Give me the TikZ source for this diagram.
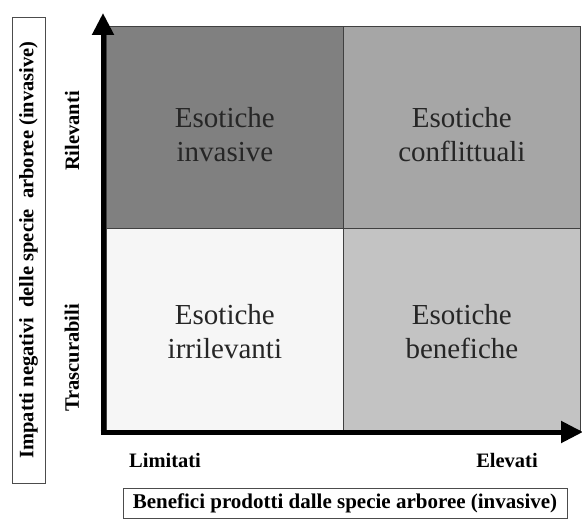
\documentclass[tikz,border=0pt]{standalone}
\usepackage{fontspec}
\setmainfont{Liberation Serif}
\usetikzlibrary{arrows.meta}
\definecolor{qTL}{HTML}{808080}
\definecolor{qTR}{HTML}{A6A6A6}
\definecolor{qBL}{HTML}{F6F6F6}
\definecolor{qBR}{HTML}{C3C3C3}
\definecolor{qEdge}{HTML}{404040}
\begin{document}
\begin{tikzpicture}[x=1pt,y=-1pt,
  quad/.style={draw=qEdge,line width=0.8pt,minimum width=237pt,minimum height=202pt,
    inner sep=0pt,anchor=north west},
  qtext/.style={align=center,inner sep=0pt,font=\fontsize{29}{34}\selectfont,text=black!85},
  axlab/.style={font=\bfseries\fontsize{20.5}{22}\selectfont,inner sep=0pt},
  titlebox/.style={draw=black!70,line width=0.8pt,inner sep=0pt,font=\bfseries\fontsize{21}{23}\selectfont},
  axis/.style={line width=5pt,-{Triangle[length=22pt,width=21pt]}}]
\useasboundingbox (0,0) rectangle (582,519);
\fill[white] (0,0) rectangle (582,519);
% quadrants
\node[quad,fill=qTL] (tl) at (106,26) {};
\node[quad,fill=qTR] (tr) at (343,26) {};
\node[quad,fill=qBL] (bl) at (106,228) {};
\node[quad,fill=qBR] (br) at (343,228) {};
\node[qtext] (tlt) at ([yshift=-7pt]tl.center) {Esotiche\\invasive};
\node[qtext] (trt) at ([yshift=-7pt]tr.center) {Esotiche\\conflittuali};
\node[qtext] (blt) at ([yshift=-2pt]bl.center) {Esotiche\\irrilevanti};
\node[qtext] (brt) at ([yshift=-2pt]br.center) {Esotiche\\benefiche};
% axes
\coordinate (o) at (103,432);
\coordinate (ytip) at (103,13);
\coordinate (xtip) at (583,432);
\draw[axis] ([yshift=2.5pt]o) -- (ytip);
\draw[axis] ([xshift=-2.5pt]o) -- (xtip);
% axis labels
\node[axlab,rotate=90] (ril) at (72,131) {Rilevanti};
\node[axlab,rotate=90] (tra) at (72,358) {Trascurabili};
\node[axlab] (lim) at (165,460) {Limitati};
\node[axlab] (ele) at (507,460) {Elevati};
% titles
\node[titlebox,rotate=90,minimum width=466pt,minimum height=33pt,font=\bfseries\fontsize{20.5}{23}\selectfont] (ytitle) at (28.5,250)
  {Impatti negativi\ \ delle specie\ \ arboree (invasive)};
\node[titlebox,minimum width=444pt,minimum height=30pt] (xtitle) at (345,503)
  {Benefici prodotti dalle specie arboree (invasive)};
\end{tikzpicture}
\end{document}
